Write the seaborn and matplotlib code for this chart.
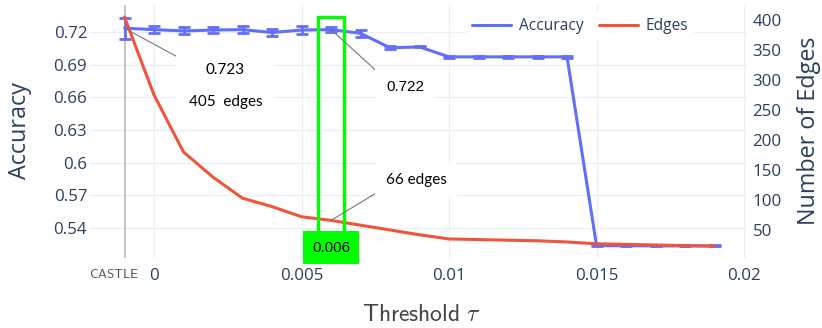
import numpy as np
import pandas as pd
import matplotlib
matplotlib.use("Agg")
import matplotlib.pyplot as plt
import matplotlib.transforms as mtransforms
from matplotlib.patches import Rectangle
import seaborn as sns

# ---------------- data ----------------
thresholds = [-0.001, 0.000, 0.001, 0.002, 0.003, 0.004, 0.005, 0.006, 0.007,
              0.008, 0.009, 0.010, 0.011, 0.012, 0.013, 0.014, 0.015, 0.016,
              0.017, 0.018, 0.019]
accuracy = [0.7235, 0.7222, 0.7210, 0.7218, 0.7222, 0.7195, 0.7218, 0.7222,
            0.7188, 0.7055, 0.7063, 0.6972, 0.6972, 0.6972, 0.6972, 0.6972,
            0.5238, 0.5238, 0.5236, 0.5236, 0.5236]
accuracy_std = [0.0098, 0.0029, 0.0032, 0.0026, 0.0035, 0.0032, 0.0038, 0.0021,
                0.0034, 0.0012, 0.0005, 0.0007, 0.0007, 0.0007, 0.0007, 0.0007,
                0.0005, 0.0005, 0.0005, 0.0005, 0.0005]
edges = [405, 275, 180, 138, 103, 89, 72, 66, 58, 50, 42, 35, 34, 33, 32, 30,
         27, 26, 25, 24, 23]
xtick_values = [-0.001, 0, 0.005, 0.01, 0.015, 0.02]
xtick_labels = ["", "0", "0.005", "0.01", "0.015", "0.02"]
castle_label = r"$\mathsf{CASTLE}$"
acc_ticks = [0.54, 0.57, 0.60, 0.63, 0.66, 0.69, 0.72]
acc_tick_labels = ["0.54", "0.57", "0.6", "0.63", "0.66", "0.69", "0.72"]
edge_ticks = [50, 100, 150, 200, 250, 300, 350, 400]
selected_threshold = 0.006
castle_threshold = -0.001

df = pd.DataFrame({"threshold": thresholds, "accuracy": accuracy,
                   "std": accuracy_std, "edges": edges})

BLUE = "#636efa"
RED = "#EF553B"
FONT_COLOR = "#2a3f5f"
GRID = "#EBF0F8"

sns.set_theme(style="white")
plt.rcParams["font.family"] = ["Open Sans", "DejaVu Sans"]
plt.rcParams["mathtext.fontset"] = "cm"

fig = plt.figure(figsize=(8.22, 3.28), dpi=100)
ax = fig.add_axes([90 / 822, 1 - 258 / 328, 657 / 822, 253 / 328])
ax2 = ax.twinx()

# accuracy line + error bars
sns.lineplot(data=df, x="threshold", y="accuracy", ax=ax, color=BLUE,
             linewidth=2.2, label="Accuracy", legend=False)
ax.errorbar(df["threshold"], df["accuracy"], yerr=df["std"], fmt="none",
            ecolor=BLUE, elinewidth=2.0, capsize=4, capthick=2.0, zorder=3)

# edges line
sns.lineplot(data=df, x="threshold", y="edges", ax=ax2, color=RED,
             linewidth=2.2, label="Edges", legend=False)

ax.set_xlim(-0.00217, 0.0201)
ax.set_ylim(0.5125, 0.7448)
ax2.set_ylim(3.3, 425)

# ticks / grid / spines
ax.set_xticks(xtick_values)
ax.set_xticklabels(xtick_labels)
ax.set_yticks(acc_ticks)
ax.set_yticklabels(acc_tick_labels)
ax2.set_yticks(edge_ticks)
ax.grid(True, color=GRID, linewidth=1.0)
ax.set_axisbelow(True)
ax2.grid(False)
for a in (ax, ax2):
    for s in a.spines.values():
        s.set_visible(False)

ax.tick_params(axis="x", length=0, pad=7, labelsize=12.2, labelcolor=FONT_COLOR)
ax.tick_params(axis="y", length=0, pad=2, labelsize=12.2, labelcolor=FONT_COLOR)
ax2.tick_params(axis="y", length=0, pad=4, labelsize=12.2, labelcolor=FONT_COLOR)

# CASTLE label (shifted a little left, as in the reference)
ax.annotate(castle_label, xy=(castle_threshold, 0), xycoords=("data", "axes fraction"),
            xytext=(-11, -17), textcoords="offset pixels", ha="center",
            va="center", fontsize=9.5, color="#555555", annotation_clip=False)

# hide gridline at CASTLE and draw grey vertical line instead
ax.get_xgridlines()[0].set_visible(False)
ax.axvline(castle_threshold, color="#bbbbbb", linewidth=1.2, zorder=1)

# axis titles
ax.set_xlabel(r"$\mathsf{Threshold}\ \tau$", fontsize=17, color="#444444")
ax.xaxis.set_label_coords((421 - 90) / 657, (258 - 303) / 253)
ax.set_ylabel("Accuracy", fontsize=16.8, color=FONT_COLOR)
ax.yaxis.set_label_coords((32 - 90) / 657, (258 - 131) / 253)
ax2.set_ylabel("Number of Edges", fontsize=16.8, color=FONT_COLOR)
ax2.yaxis.set_label_coords((797 - 90) / 657, (258 - 131) / 253)

# green selection rectangle
trans = mtransforms.blended_transform_factory(ax.transData, ax.transAxes)
rect = Rectangle((selected_threshold - 0.00044, 0.04), 0.00088, 0.9526 - 0.04,
                 transform=trans, fill=False, edgecolor="#00ff00",
                 linewidth=2.4, zorder=5, clip_on=False)
ax2.add_patch(rect)
ax2.text(selected_threshold, 0.0415, "0.006", transform=trans, ha="center",
         va="center", fontsize=11, color="black",
         family=["Liberation Sans", "DejaVu Sans"], zorder=6,
         bbox=dict(boxstyle="square,pad=0.6", facecolor="#00ff00",
                   edgecolor="none"))

# annotations
i_c = thresholds.index(castle_threshold)
i_s = thresholds.index(selected_threshold)
ax2.annotate("0.723\n\n405  edges",
             xy=(thresholds[i_c], accuracy[i_c]),
             xycoords=ax.transData, xytext=(101, -58),
             textcoords="offset pixels", ha="center", va="center",
             multialignment="center", fontsize=11, color="black",
             family=["Lato", "DejaVu Sans"],
             bbox=dict(boxstyle="square,pad=0.8", facecolor="white",
                       edgecolor="none"),
             arrowprops=dict(arrowstyle="-", color="#777777", lw=0.8,
                             relpos=(0, 1), shrinkA=0, shrinkB=0),
             zorder=6)
ax2.annotate("0.722", xy=(thresholds[i_s], accuracy[i_s]),
             xycoords=ax.transData, xytext=(74, -57),
             textcoords="offset pixels", ha="center", va="center",
             fontsize=11, color="black",
             family=["Liberation Sans", "DejaVu Sans"],
             bbox=dict(boxstyle="square,pad=0.7", facecolor="white",
                       edgecolor="none"),
             arrowprops=dict(arrowstyle="-", color="#777777", lw=0.8,
                             relpos=(0, 1), shrinkA=0, shrinkB=0),
             zorder=6)
ax2.annotate("66 edges", xy=(thresholds[i_s], edges[i_s]),
             xycoords=ax2.transData, xytext=(85, 40),
             textcoords="offset pixels", ha="center", va="center",
             fontsize=11, color="black", family=["Lato", "DejaVu Sans"],
             bbox=dict(boxstyle="square,pad=0.7", facecolor="white",
                       edgecolor="none"),
             arrowprops=dict(arrowstyle="-", color="#777777", lw=0.8,
                             relpos=(0, 0), shrinkA=0, shrinkB=0),
             zorder=6)

# legend
h1, l1 = ax.get_legend_handles_labels()
h2, l2 = ax2.get_legend_handles_labels()
leg = ax2.legend(h1 + h2, l1 + l2, loc="upper center",
                 bbox_to_anchor=((580 - 90) / 657, 1.0), ncol=2,
                 frameon=True, facecolor="white", edgecolor="none",
                 framealpha=1, fontsize=11.2, handlelength=2.5,
                 handletextpad=0.5, columnspacing=1.0, borderpad=0.35)
for t in leg.get_texts():
    t.set_color(FONT_COLOR)
leg.set_zorder(10)

fig.savefig("out.png", dpi=100)
